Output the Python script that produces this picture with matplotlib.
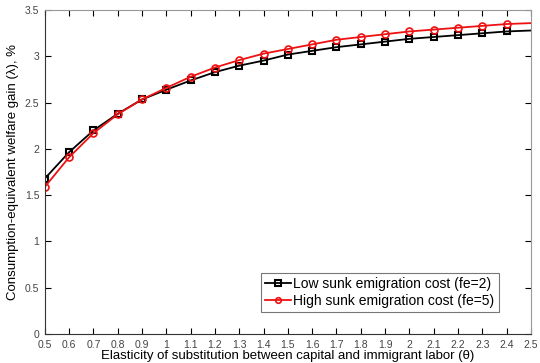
import numpy as np
import matplotlib
matplotlib.use('Agg')
import matplotlib.pyplot as plt

plt.rcParams['font.family'] = ['Liberation Sans', 'DejaVu Sans']

theta = [0.5, 0.6, 0.7, 0.8, 0.9, 1.0, 1.1, 1.2, 1.3, 1.4, 1.5,
         1.6, 1.7, 1.8, 1.9, 2.0, 2.1, 2.2, 2.3, 2.4, 2.5]
low_fe2 = [1.68, 1.965, 2.20, 2.38, 2.535, 2.64, 2.74, 2.83, 2.90, 2.955, 3.02,
           3.06, 3.10, 3.13, 3.16, 3.19, 3.21, 3.23, 3.25, 3.27, 3.28]
high_fe5 = [1.59, 1.91, 2.17, 2.375, 2.535, 2.66, 2.78, 2.88, 2.96, 3.03, 3.08,
            3.13, 3.18, 3.21, 3.24, 3.27, 3.29, 3.31, 3.33, 3.35, 3.36]

xticks = np.round(np.arange(0.5, 2.51, 0.1), 1)
xticklabels = ['%g' % t for t in xticks]
yticks = [0, 0.5, 1, 1.5, 2, 2.5, 3, 3.5]

fig = plt.figure(figsize=(5.4, 3.63), dpi=100)
ax = fig.add_axes([0.083, 0.08, 0.9, 0.892])

marks = slice(0, len(theta) - 1)
ax.plot(theta, low_fe2, color='black', lw=1.3, marker='s', ms=5, mfc='none',
        mew=1.5, markevery=marks, label='Low sunk emigration cost (fe=2)')
ax.plot(theta, high_fe5, color='#ee1111', lw=1.3, marker='o', ms=5, mfc='none',
        mew=1.2, markevery=marks, label='High sunk emigration cost (fe=5)')

ax.set_xlim(0.5, 2.5)
ax.set_ylim(0, 3.5)
ax.set_xticks(xticks)
ax.set_xticklabels(xticklabels)
ax.set_yticks(yticks)
ax.set_yticklabels(['%g' % t for t in yticks])
ax.tick_params(direction='in', top=True, right=True, labelsize=7.5,
               labelcolor='#444444', length=4, width=0.8)
ax.tick_params(axis='x', pad=4)
ax.tick_params(axis='y', pad=4)
for side in ['top', 'right']:
    ax.spines[side].set_color('#999999')
for side in ['left', 'bottom']:
    ax.spines[side].set_color('#333333')

ax.set_xlabel('Elasticity of substitution between capital and immigrant labor (\u03b8)',
              fontsize=9.5, labelpad=0)
ax.set_ylabel('Consumption-equivalent welfare gain (\u03bb), %', fontsize=9.5, labelpad=4)

leg = ax.legend(loc='lower right', bbox_to_anchor=(0.948, 0.045), fontsize=10,
                handlelength=1.9, handletextpad=0.15, borderpad=0.3,
                labelspacing=0.25, fancybox=False, edgecolor='#555555',
                markerscale=0.8)
leg.get_frame().set_linewidth(0.8)

fig.savefig('out.png', dpi=100)
